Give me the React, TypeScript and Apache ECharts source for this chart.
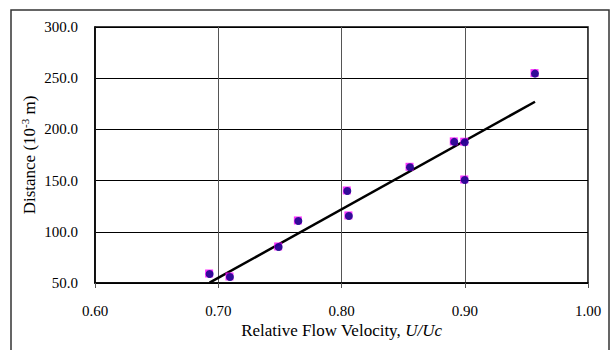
import React, { useEffect, useRef } from "react";
import * as echarts from "echarts";

const velocity = [0.693, 0.7095, 0.749, 0.765, 0.8047, 0.806, 0.8556, 0.8915, 0.9, 0.9, 0.957];
const distance = [58.8, 55.9, 85.2, 110.6, 139.9, 115.5, 163.0, 187.8, 187.5, 150.6, 254.5];
const trendX = [0.693, 0.957];
const trendY = [50.3, 227.0];
const xTicks = [0.6, 0.7, 0.8, 0.9, 1.0];
const yTicks = [50, 100, 150, 200, 250, 300];

export default function App() {
  const ref = useRef<HTMLDivElement>(null);
  useEffect(() => {
    document.body.style.margin = "0";
    const chart = echarts.init(ref.current!, null, { renderer: "svg" });
    const pts = velocity.map((v, i) => [v, distance[i]]);
    const font = "'Liberation Serif', 'Times New Roman', serif";
    chart.setOption({
      animation: false,
      backgroundColor: "#fff",
      textStyle: { fontFamily: font },
      graphic: [
        {
          type: "rect",
          shape: { x: 11, y: 10, width: 598, height: 360 },
          style: { fill: "none", stroke: "#333", lineWidth: 1.5 },
          silent: true,
        },
      ],
      grid: { left: 95, right: 25, top: 27, bottom: 67, show: true, borderColor: "#000", borderWidth: 1.5, backgroundColor: "transparent" },
      xAxis: {
        type: "value",
        min: xTicks[0],
        max: xTicks[xTicks.length - 1],
        interval: 0.1,
        name: "{n|Relative Flow Velocity, }{i|U/Uc}",
        nameLocation: "middle",
        nameGap: 39,
        nameMoveOverlap: false,
        nameTextStyle: {
          rich: {
            n: { fontFamily: font, fontSize: 17, color: "#000" },
            i: { fontFamily: font, fontSize: 17, color: "#000", fontStyle: "italic" },
          },
        },
        axisLine: { show: true, lineStyle: { color: "#000", width: 1.5 } },
        axisTick: { show: true, inside: false, length: 5, lineStyle: { color: "#555" } },
        axisLabel: { fontFamily: font, fontSize: 15, color: "#000", margin: 20, formatter: (v: number) => v.toFixed(2) },
        splitLine: { show: true, lineStyle: { color: "#555", width: 1 } },
      },
      yAxis: {
        type: "value",
        min: yTicks[0],
        max: yTicks[yTicks.length - 1],
        interval: 50,
        name: "{n|Distance (10}{s|-3}{n| m)}",
        nameLocation: "middle",
        nameGap: 56,
        nameMoveOverlap: false,
        nameTextStyle: {
          rich: {
            n: { fontFamily: font, fontSize: 17, color: "#000" },
            s: { fontFamily: font, fontSize: 11, color: "#000", verticalAlign: "top", padding: [0, 0, 9, 0] },
          },
        },
        axisLine: { show: true, lineStyle: { color: "#000", width: 1.5 } },
        axisTick: { show: false },
        axisLabel: { fontFamily: font, fontSize: 15, color: "#000", margin: 17, formatter: (v: number) => v.toFixed(1) },
        splitLine: { show: true, lineStyle: { color: "#000", width: 1 } },
      },
      series: [
        {
          type: "line",
          data: trendX.map((x, i) => [x, trendY[i]]),
          showSymbol: false,
          symbol: "none",
          lineStyle: { color: "#000", width: 2.5 },
          z: 3,
        },
        {
          type: "scatter",
          data: pts,
          symbol: "rect",
          symbolSize: 8,
          symbolOffset: [-0.5, -0.5],
          itemStyle: { color: "#ff00ff" },
          z: 4,
        },
        {
          type: "scatter",
          data: pts,
          symbol: "circle",
          symbolSize: 8,
          itemStyle: { color: "#000080" },
          z: 5,
        },
      ],
    });
    return () => chart.dispose();
  }, []);
  return <div ref={ref} style={{ width: 613, height: 350 }} />;
}
